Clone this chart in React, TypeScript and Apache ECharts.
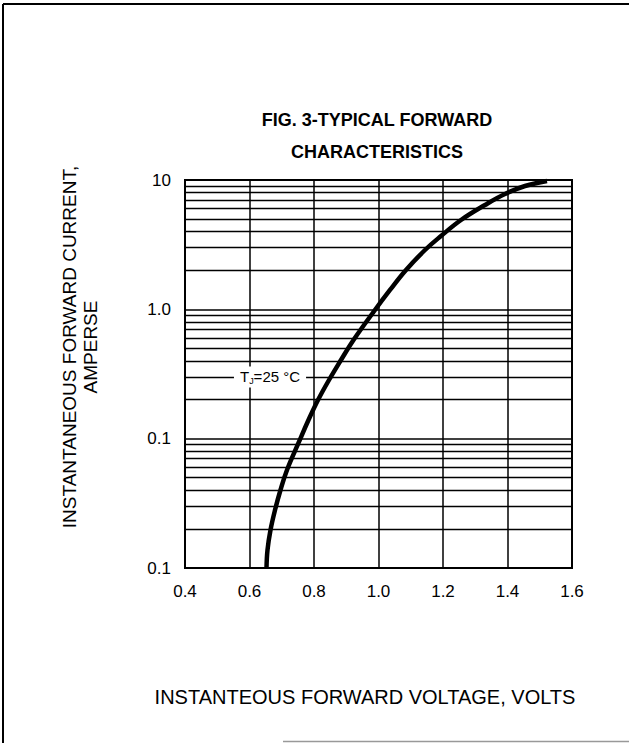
import React, { useEffect, useRef } from "react";
import * as echarts from "echarts";

// Forward voltage (V) and forward current (A)
const voltage = [0.6527, 0.6558, 0.6651, 0.6791, 0.6961, 0.7163, 0.7519, 0.7829, 0.8124, 0.8465, 0.8837, 0.9225, 0.9845, 1.0357, 1.0853, 1.1442, 1.1938, 1.2558, 1.3302, 1.3922, 1.4543, 1.5225];
const current = [0.01, 0.01377, 0.01967, 0.02806, 0.0401, 0.0573, 0.0926, 0.1394, 0.199, 0.2842, 0.4057, 0.5793, 0.9537, 1.411, 2.014, 2.876, 3.69, 4.906, 6.409, 7.795, 8.986, 9.824];

// Axis ticks
const xTicks = { min: 0.4, max: 1.6, step: 0.2 };
const yTickValues = [0.01, 0.1, 1, 10];
const yTickLabels = ["0.1", "0.1", "1.0", "10"];
const minorGridValues = [
  0.02, 0.03, 0.04, 0.05, 0.06, 0.07, 0.08, 0.09,
  0.2, 0.3, 0.4, 0.5, 0.6, 0.7, 0.8, 0.9,
  2, 3, 4, 5, 6, 7, 8, 9,
];

// Annotation
const tempLabelPoint = [0.6636, 0.3];
const tempLabelText = "{m|T}{s|J}{m|=25 °C}";
const titleLines = ["FIG. 3-TYPICAL FORWARD", "CHARACTERISTICS"];
const xAxisTitle = "INSTANTEOUS FORWARD VOLTAGE, VOLTS";
const yAxisTitle = ["INSTANTANEOUS FORWARD CURRENT,", "AMPERSE"];

const FONT = "'Liberation Sans', Arial, Helvetica, sans-serif";

export default function App() {
  const ref = useRef<HTMLDivElement>(null);
  useEffect(() => {
    if (!ref.current) return;
    const chart = echarts.init(ref.current, null, { renderer: "svg" });
    const curveData = voltage.map((v, i) => [v, current[i]]);
    chart.setOption({
      animation: false,
      backgroundColor: "#fff",
      textStyle: { fontFamily: FONT },
      grid: {
        left: 185,
        right: 57,
        top: 180,
        bottom: 175,
        show: true,
        borderColor: "#000",
        borderWidth: 2,
        backgroundColor: "#fff",
      },
      xAxis: {
        type: "value",
        min: xTicks.min,
        max: xTicks.max,
        interval: xTicks.step,
        axisLine: { show: true, lineStyle: { color: "#000", width: 2 } },
        axisTick: { show: false },
        axisLabel: {
          color: "#000",
          fontSize: 17,
          fontFamily: FONT,
          margin: 15,
          formatter: (v: number) => v.toFixed(1),
        },
        splitLine: { show: true, lineStyle: { color: "#000", width: 1.5 } },
      },
      yAxis: {
        type: "log",
        logBase: 10,
        min: yTickValues[0],
        max: yTickValues[yTickValues.length - 1],
        axisLine: { show: true, lineStyle: { color: "#000", width: 2 } },
        axisTick: { show: false },
        axisLabel: {
          color: "#000",
          fontSize: 17,
          fontFamily: FONT,
          margin: 14,
          formatter: (v: number) => {
            const idx = yTickValues.findIndex((t) => Math.abs(Math.log10(t) - Math.log10(v)) < 1e-6);
            return idx >= 0 ? yTickLabels[idx] : "";
          },
        },
        splitLine: { show: true, lineStyle: { color: "#000", width: 1.5 } },
      },
      series: [
        {
          type: "line",
          data: [],
          z: 1,
          silent: true,
          markLine: {
            silent: true,
            symbol: ["none", "none"],
            label: { show: false },
            lineStyle: { color: "#000", width: 1.3, type: "solid" },
            data: minorGridValues.map((y) => ({ yAxis: y })),
          },
        },
        {
          type: "line",
          data: curveData,
          z: 3,
          smooth: 0.4,
          showSymbol: false,
          lineStyle: { color: "#000", width: 4.5 },
        },
      ],
      graphic: [
        { id: "f1", type: "line", shape: { x1: 3, y1: 4, x2: 629, y2: 4 }, style: { stroke: "#000", lineWidth: 2 } },
        { id: "f2", type: "line", shape: { x1: 3, y1: 4, x2: 3, y2: 743 }, style: { stroke: "#000", lineWidth: 2 } },
        { id: "f3", type: "line", shape: { x1: 283, y1: 741.5, x2: 629, y2: 741.5 }, style: { stroke: "#999", lineWidth: 1.5 } },
        {
          id: "t1",
          type: "text",
          x: 377,
          y: 120,
          style: { text: titleLines[0], font: `bold 18px ${FONT}`, fill: "#000", align: "center", verticalAlign: "middle" },
        },
        {
          id: "t2",
          type: "text",
          x: 377,
          y: 152,
          style: { text: titleLines[1], font: `bold 18px ${FONT}`, fill: "#000", align: "center", verticalAlign: "middle" },
        },
        {
          id: "xt",
          type: "text",
          x: 365,
          y: 697,
          style: { text: xAxisTitle, font: `20px ${FONT}`, fill: "#000", align: "center", verticalAlign: "middle" },
        },
        {
          id: "yt",
          type: "text",
          x: 80,
          y: 347,
          rotation: Math.PI / 2,
          style: {
            text: yAxisTitle.join("\n"),
            font: `19px ${FONT}`,
            lineHeight: 21,
            fill: "#000",
            align: "center",
            verticalAlign: "middle",
          },
        },
      ],
    });
    const p = chart.convertToPixel({ gridIndex: 0 }, tempLabelPoint) as number[];
    chart.setOption({
      graphic: [
        {
          id: "tj",
          type: "text",
          x: p[0],
          y: p[1],
          z: 100,
          style: {
            text: tempLabelText,
            align: "center",
            verticalAlign: "middle",
            backgroundColor: "#fff",
            padding: [2, 6, 2, 6],
            fill: "#000",
            rich: {
              m: { fontSize: 15, fill: "#000", fontFamily: FONT, lineHeight: 17 },
              s: { fontSize: 9, fill: "#000", fontFamily: FONT, lineHeight: 9, verticalAlign: "bottom" },
            },
          },
        },
      ],
    });
    return () => chart.dispose();
  }, []);
  return (
    <div
      ref={ref}
      style={{ position: "fixed", left: 0, top: 0, width: 629, height: 743, background: "#fff" }}
    />
  );
}
